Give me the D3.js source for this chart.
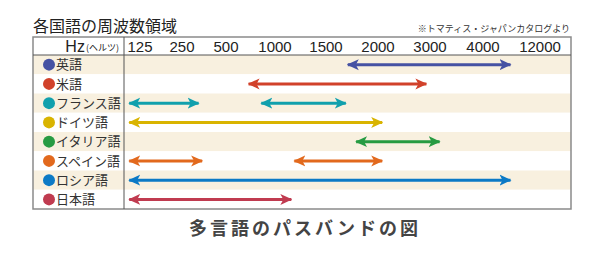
<!DOCTYPE html>
<html>
<meta charset="utf-8">
<script src="https://d3js.org/d3.v7.min.js"></script>
<style>
  body { margin: 0; background: #fff; }
  text { font-family: "Liberation Sans", "Noto Sans CJK JP", sans-serif; }
  .jp { font-family: "Noto Sans CJK JP", sans-serif; }
</style>
<body>
<div id="vis"></div>
<script>
// tick labels (Hz)
const ticks = [125, 250, 500, 1000, 1500, 2000, 3000, 4000, 12000];
// languages and colours
const languages = ["英語", "米語", "フランス語", "ドイツ語", "イタリア語", "スペイン語", "ロシア語", "日本語"];
const colors = ["#4652a3", "#d1412a", "#11a0ad", "#d9b400", "#279b42", "#e2691d", "#0c7ac6", "#c03b50"];
// pass bands [language, from Hz, to Hz]
const bands = [
  ["英語", 1700, 8000],
  ["米語", 720, 2950],
  ["フランス語", 90, 350],
  ["フランス語", 850, 1700],
  ["ドイツ語", 90, 2100],
  ["イタリア語", 1780, 3200],
  ["スペイン語", 90, 370],
  ["スペイン語", 1180, 2100],
  ["ロシア語", 90, 8000],
  ["日本語", 90, 1170]
];

const W = 600, H = 260;
const tLeft = 33, tRight = 571, divX = 124;
const tTop = 37, headH = 18, tBottom = 209;

const svg = d3.select("#vis").append("svg")
  .attr("width", W).attr("height", H);

// x: piecewise linear between the printed tick columns
const tickPos = [140, 182, 226, 275, 326, 378, 430, 483, 540];
const x = d3.scaleLinear().domain(ticks).range(tickPos);

const y = d3.scaleBand()
  .domain(languages)
  .range([tTop + headH, tBottom]);

const color = d3.scaleOrdinal().domain(languages).range(colors);

// row stripes
svg.append("g").selectAll("rect")
  .data(languages)
  .join("rect")
    .attr("x", tLeft).attr("y", d => y(d))
    .attr("width", tRight - tLeft).attr("height", y.bandwidth())
    .attr("fill", (d, i) => i % 2 === 0 ? "#f8f0df" : "#fff");

// header text
svg.append("text")
  .attr("x", 119).attr("y", 52)
  .attr("text-anchor", "end")
  .style("fill", "#222")
  .html('<tspan font-size="16">Hz</tspan><tspan class="jp" font-size="9" dx="1" dy="-1">(ヘルツ)</tspan>');

svg.append("g").selectAll("text")
  .data(ticks)
  .join("text")
    .attr("x", d => x(d)).attr("y", 52)
    .attr("text-anchor", "middle")
    .style("font-size", "15px")
    .style("fill", "#222")
    .text(d => d);

// row labels
const rows = svg.append("g").selectAll("g")
  .data(languages)
  .join("g")
    .attr("transform", d => `translate(0,${y(d) + y.bandwidth() / 2})`);
rows.append("circle")
  .attr("cx", 49).attr("cy", 0).attr("r", 6)
  .attr("fill", d => color(d));
rows.append("text")
  .attr("class", "jp")
  .attr("x", 56).attr("y", 0).attr("dy", "0.36em")
  .style("font-size", "13px")
  .style("fill", "#333")
  .text(d => d);

// table lines
svg.append("rect")
  .attr("x", tLeft).attr("y", tTop)
  .attr("width", tRight - tLeft).attr("height", tBottom - tTop)
  .attr("fill", "none").attr("stroke", "#8a8a8a").attr("stroke-width", 1.5);
svg.append("line")
  .attr("x1", tLeft).attr("x2", tRight).attr("y1", tTop + headH).attr("y2", tTop + headH)
  .attr("stroke", "#555").attr("stroke-width", 1);
svg.append("line")
  .attr("x1", divX).attr("x2", divX).attr("y1", tTop).attr("y2", tBottom)
  .attr("stroke", "#555").attr("stroke-width", 1);

// arrows
const defs = svg.append("defs");
languages.forEach((l, i) => {
  defs.append("marker")
    .attr("id", "ah" + i)
    .attr("markerUnits", "userSpaceOnUse")
    .attr("viewBox", "0 -6 12 12")
    .attr("refX", 11).attr("refY", 0)
    .attr("markerWidth", 12).attr("markerHeight", 12)
    .attr("orient", "auto-start-reverse")
    .append("path")
      .attr("d", "M0,-5.5 L12,0 L0,5.5 L3,0 Z")
      .attr("fill", color(l));
});

svg.append("g").selectAll("line")
  .data(bands)
  .join("line")
    .attr("x1", d => x(d[1]) + 1).attr("x2", d => x(d[2]) - 1)
    .attr("y1", d => y(d[0]) + y.bandwidth() / 2)
    .attr("y2", d => y(d[0]) + y.bandwidth() / 2)
    .attr("stroke", d => color(d[0]))
    .attr("stroke-width", 3)
    .attr("marker-start", d => `url(#ah${languages.indexOf(d[0])})`)
    .attr("marker-end", d => `url(#ah${languages.indexOf(d[0])})`);

// titles
svg.append("text")
  .attr("class", "jp")
  .attr("x", tLeft).attr("y", 32)
  .style("font-size", "16px")
  .style("fill", "#222")
  .text("各国語の周波数領域");

svg.append("text")
  .attr("class", "jp")
  .attr("x", 570).attr("y", 32)
  .attr("text-anchor", "end")
  .style("font-size", "9px")
  .style("fill", "#333")
  .text("※トマティス・ジャパンカタログより");

svg.append("text")
  .attr("class", "jp")
  .attr("x", 305).attr("y", 235)
  .attr("text-anchor", "middle")
  .style("font-size", "18px")
  .style("font-weight", "bold")
  .style("letter-spacing", "3px")
  .style("fill", "#444")
  .text("多言語のパスバンドの図");
</script>
</body>
</html>
